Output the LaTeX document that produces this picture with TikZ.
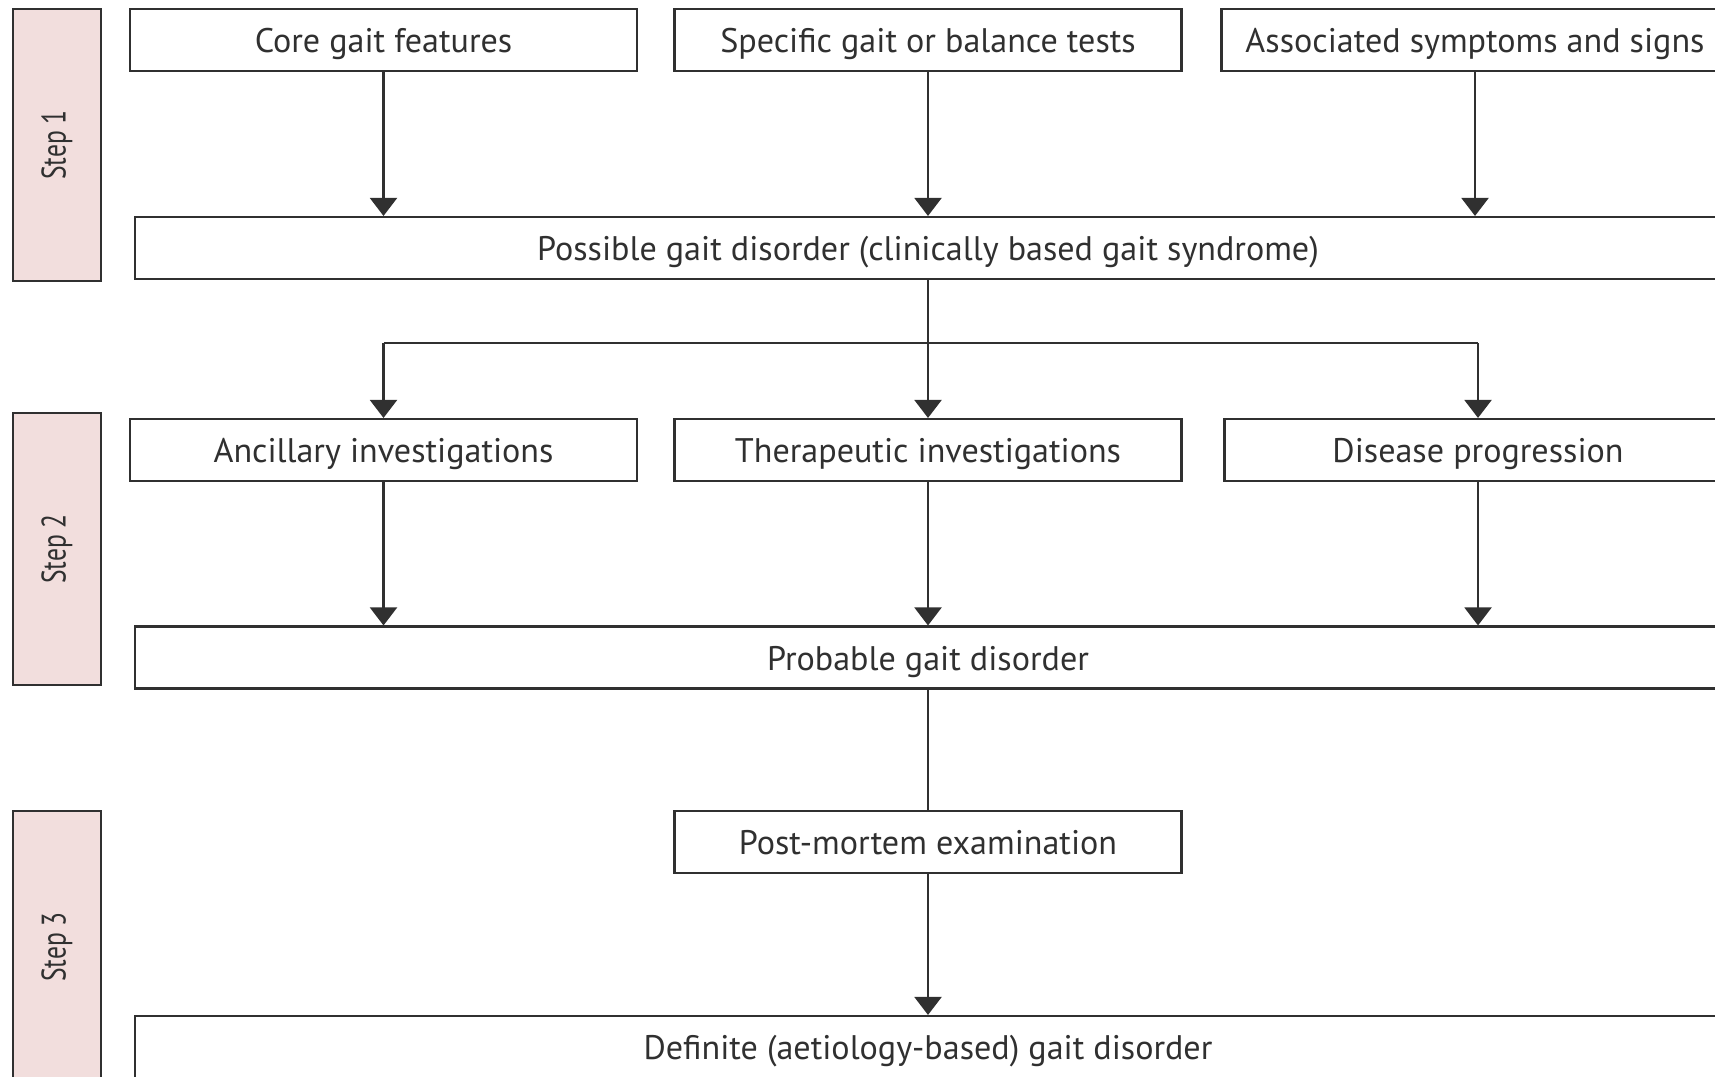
\documentclass[tikz,border=0pt]{standalone}
\usepackage{fontspec}
\setmainfont{PT Sans}
\newfontfamily\stepfont[FakeStretch=0.75]{PT Sans}
\usetikzlibrary{arrows.meta,positioning,calc}
\definecolor{steppink}{HTML}{F2DEDD}
\definecolor{inkgray}{HTML}{303030}
\tikzset{
  stepbox/.style  ={draw=inkgray,line width=0.6pt,fill=steppink,rotate=90,inner sep=0pt,
                     minimum width=2.72cm,minimum height=0.88cm,font=\stepfont\fontsize{9.7}{12}\selectfont,text=inkgray},
  itembox/.style  ={draw=inkgray,line width=0.6pt,fill=white,inner sep=0pt,text height=0.78em,text depth=0.06em,
                     minimum width=5.07cm,minimum height=0.62cm,font=\fontsize{9.7}{11}\selectfont,text=inkgray},
  widebox/.style  ={itembox,minimum width=15.86cm},
  flow/.style     ={-{Triangle[width=2.7mm,length=1.8mm]},line width=0.6pt,draw=inkgray},
  link/.style     ={line width=0.6pt,draw=inkgray},
}
\begin{document}
\begin{tikzpicture}
\clip (0,0) rectangle (17.15,-10.77);
\fill[white] (0,0) rectangle (17.15,-10.77);
% ---- step tabs ----
\node[stepbox] (st1) at (0.57,-1.45) {Step 1};
\node[stepbox] (st2) at (0.57,-5.49) {Step 2};
\node[stepbox] (st3) at (0.57,-9.47) {Step 3};
% ---- step 1 ----
\node[itembox] (core)  at (3.835,-0.40)  {Core gait features};
\node[itembox] (test)  at (9.28,-0.40)   {Specific gait or balance tests};
\node[itembox] (symp)  at (14.75,-0.40)  {Associated symptoms and signs};
\node[widebox] (poss)  at (9.28,-2.48)   {Possible gait disorder (clinically based gait syndrome)};
\foreach \s in {core,test,symp} \draw[flow] (\s.south) -- (\s.south |- poss.north);
% ---- step 2 ----
\node[itembox] (anc)   at (3.835,-4.50)  {Ancillary investigations};
\node[itembox] (ther)  at (9.28,-4.50)   {Therapeutic investigations};
\node[itembox] (prog)  at (14.78,-4.50)  {Disease progression};
\node[widebox] (prob)  at (9.28,-6.575)  {Probable gait disorder};
\coordinate (split) at ($(poss.south)+(0,-0.63)$);
\draw[link] (poss.south) -- (split);
\draw[link] (split -| anc.north) -- (split -| prog.north);
\foreach \d in {anc,ther,prog} \draw[flow] (split -| \d.north) -- (\d.north);
\foreach \s in {anc,ther,prog} \draw[flow] (\s.south) -- (\s.south |- prob.north);
% ---- step 3 ----
\node[itembox] (pm)    at (9.28,-8.42)   {Post-mortem examination};
\node[widebox] (defi)  at (9.28,-10.47)  {Definite (aetiology-based) gait disorder};
\draw[link] (prob.south) -- (pm.north);
\draw[flow] (pm) -- (defi);
\end{tikzpicture}
\end{document}
